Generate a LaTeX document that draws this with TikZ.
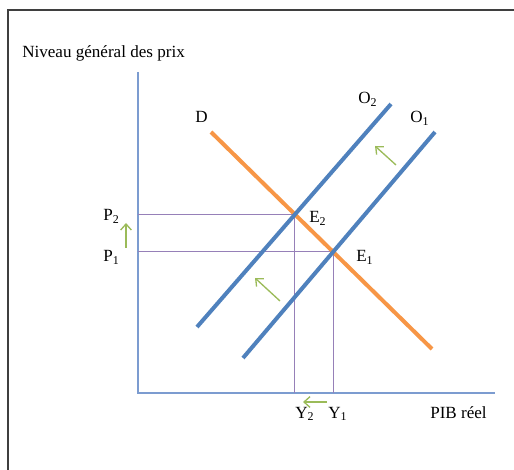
\documentclass[tikz,border=0pt]{standalone}
\usepackage{fontspec}
\setmainfont{Liberation Serif}
\usetikzlibrary{arrows.meta,positioning,calc}
\definecolor{frame}{HTML}{3F3F3F}
\definecolor{axisblue}{HTML}{7C9CD0}
\definecolor{supply}{HTML}{4F81BD}
\definecolor{demand}{HTML}{F79646}
\definecolor{guide}{HTML}{9680B8}
\definecolor{shift}{HTML}{9BBB59}
\tikzset{axisline/.style={draw=axisblue,line width=1.1pt},curve/.style={line width=3pt},supplyline/.style={curve,draw=supply},demandline/.style={curve,draw=demand},guideline/.style={draw=guide,line width=0.75pt},shiftarrow/.style={-{Straight Barb[length=4.5pt,width=8pt]},draw=shift,line width=1pt},lbl/.style={font=\fontsize{12.8}{15}\selectfont,inner sep=0pt,anchor=base west}}

\begin{document}
\begin{tikzpicture}[x=0.75pt,y=-0.75pt]
\useasboundingbox (0,0) rectangle (514,470);
\draw[draw=frame,line width=1.2pt] (8,470) -- (8,10) -- (514,10);
% axes
\coordinate (origin) at (138,393);
\coordinate (ytop) at (138,72);
\coordinate (xend) at (495,393);
\draw[axisline] (ytop) -- (origin) -- (xend);
\node[lbl] (ytitle) at (22,58) {Niveau général des prix};
\node[lbl] (xtitle) at (430,418) {PIB réel};
% demand and the two supply curves
\coordinate (d0) at (211,132);
\coordinate (d1) at (432,349);
\coordinate (oa0) at (243,358);
\coordinate (oa1) at (435,132);
\coordinate (ob0) at (197,327);
\coordinate (ob1) at (391,104);
\coordinate (E1) at (intersection of d0--d1 and oa0--oa1);
\coordinate (E2) at (intersection of d0--d1 and ob0--ob1);
\coordinate (P1) at (origin |- E1);
\coordinate (P2) at (origin |- E2);
\coordinate (Y1) at (origin -| E1);
\coordinate (Y2) at (origin -| E2);
\draw[guideline] (P2) -- (E2) -- (Y2);
\draw[guideline] (P1) -- (E1) -- (Y1);
\draw[demandline] (d0) -- (d1);
\draw[supplyline] (oa0) -- (oa1);
\draw[supplyline] (ob0) -- (ob1);
% labels
\node[lbl] (lD) at (195,123) {D};
\node[lbl] (lO2) at (358,104) {O\textsubscript{2}};
\node[lbl] (lO1) at (410,123) {O\textsubscript{1}};
\node[lbl] (lE2) at (309,223) {E\textsubscript{2}};
\node[lbl] (lE1) at (356,262) {E\textsubscript{1}};
\node[lbl] (lP2) at (103,221) {P\textsubscript{2}};
\node[lbl] (lP1) at (103,262) {P\textsubscript{1}};
\node[lbl] (lY2) at (295,418) {Y\textsubscript{2}};
\node[lbl] (lY1) at (328,418) {Y\textsubscript{1}};
% shifts
\coordinate (pa) at (126,248);
\coordinate (pb) at (126,223);
\coordinate (sa) at (280,301);
\coordinate (sb) at (255,278);
\coordinate (ta) at (396,165);
\coordinate (tb) at (375,146);
\coordinate (ya) at (327,402);
\coordinate (yb) at (303,402);
\foreach \from/\to in {pa/pb,sa/sb,ta/tb,ya/yb}
  \draw[shiftarrow] (\from) -- (\to);
\end{tikzpicture}
\end{document}
